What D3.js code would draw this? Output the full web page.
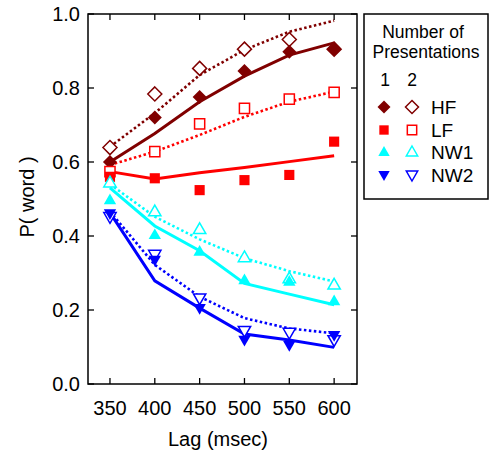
<!DOCTYPE html>
<html>
<head>
<meta charset="utf-8">
<script src="https://d3js.org/d3.v7.min.js"></script>
<style>
  body { margin: 0; background: #fff; }
  text { font-family: "Liberation Sans", Arial, sans-serif; fill: #000; }
</style>
</head>
<body>
<div id="chart"></div>
<script>
// lags on the x axis
var lags = [350, 400, 450, 500, 550, 600];
var yTicks = [0.0, 0.2, 0.4, 0.6, 0.8, 1.0];
var conditions = ["HF", "LF", "NW1", "NW2"];

// observed proportions, 1 and 2 presentations
var obs1 = {
  HF:  [0.600, 0.720, 0.776, 0.846, 0.898, 0.905],
  LF:  [0.560, 0.556, 0.524, 0.551, 0.565, 0.655],
  NW1: [0.497, 0.403, 0.358, 0.281, 0.277, 0.224],
  NW2: [0.461, 0.335, 0.205, 0.119, 0.105, 0.132]
};
var obs2 = {
  HF:  [0.639, 0.784, 0.853, 0.905, 0.931, 0.905],
  LF:  [0.574, 0.628, 0.703, 0.745, 0.770, 0.788],
  NW1: [0.544, 0.466, 0.418, 0.342, 0.285, 0.268],
  NW2: [0.452, 0.350, 0.232, 0.144, 0.139, 0.119]
};
// model fits (solid = 1 presentation, dotted = 2 presentations)
var fit1 = {
  HF:  [0.600, 0.677, 0.763, 0.832, 0.889, 0.922],
  LF:  [0.574, 0.554, 0.571, 0.585, 0.601, 0.617],
  NW1: [0.530, 0.427, 0.360, 0.272, 0.243, 0.214],
  NW2: [0.463, 0.279, 0.205, 0.135, 0.119, 0.099]
};
var fit2 = {
  HF:  [0.641, 0.732, 0.835, 0.903, 0.952, 0.982],
  LF:  [0.592, 0.628, 0.673, 0.722, 0.763, 0.790],
  NW1: [0.540, 0.452, 0.391, 0.340, 0.305, 0.277],
  NW2: [0.466, 0.322, 0.236, 0.178, 0.150, 0.137]
};

var colors = { HF: "#800000", LF: "#ff0000", NW1: "#00ffff", NW2: "#0000ff" };
var shapes = { HF: "diamond", LF: "square", NW1: "up", NW2: "down" };

var W = 489, H = 451;
var L = 88, R = 357, T = 14, B = 384;

var svg = d3.select("#chart").append("svg").attr("width", W).attr("height", H);

var x = d3.scaleLinear().domain([325.5, 625.5]).range([L, R]);
var y = d3.scaleLinear().domain([0, 1]).range([B, T]);

function shapePath(kind, r) {
  if (kind === "diamond") return "M0," + (-r) + "L" + r + ",0L0," + r + "L" + (-r) + ",0Z";
  if (kind === "square") { var s = r * 0.78; return "M" + (-s) + "," + (-s) + "H" + s + "V" + s + "H" + (-s) + "Z"; }
  if (kind === "up") return "M0," + (-r) + "L" + (r * 0.95) + "," + (r * 0.65) + "L" + (-r * 0.95) + "," + (r * 0.65) + "Z";
  return "M0," + r + "L" + (r * 0.95) + "," + (-r * 0.65) + "L" + (-r * 0.95) + "," + (-r * 0.65) + "Z";
}

// frame
svg.append("rect").attr("x", L).attr("y", T).attr("width", R - L).attr("height", B - T)
  .attr("fill", "none").attr("stroke", "#000").attr("stroke-width", 1.5);

// ticks inward on all sides
var tk = 6;
lags.forEach(function (d) {
  svg.append("line").attr("x1", x(d)).attr("x2", x(d)).attr("y1", B).attr("y2", B - tk).attr("stroke", "#000").attr("stroke-width", 1.3);
  svg.append("line").attr("x1", x(d)).attr("x2", x(d)).attr("y1", T).attr("y2", T + tk).attr("stroke", "#000").attr("stroke-width", 1.3);
  svg.append("text").attr("x", x(d)).attr("y", 415).attr("text-anchor", "middle")
    .style("font-size", "20px").text(d);
});
yTicks.forEach(function (d) {
  svg.append("line").attr("x1", L).attr("x2", L + tk).attr("y1", y(d)).attr("y2", y(d)).attr("stroke", "#000").attr("stroke-width", 1.3);
  svg.append("line").attr("x1", R).attr("x2", R - tk).attr("y1", y(d)).attr("y2", y(d)).attr("stroke", "#000").attr("stroke-width", 1.3);
  svg.append("text").attr("x", 80).attr("y", y(d) + 7).attr("text-anchor", "end")
    .style("font-size", "20px").text(d3.format(".1f")(d));
});

svg.append("text").attr("x", 218).attr("y", 446).attr("text-anchor", "middle")
  .style("font-size", "20px").text("Lag (msec)");
svg.append("text").attr("transform", "translate(34,197) rotate(-90)").attr("text-anchor", "middle")
  .style("font-size", "20px").text("P( word )");

// lines
var line = d3.line().x(function (d, i) { return x(lags[i]); }).y(function (d) { return y(d); });
conditions.forEach(function (c) {
  svg.append("path").attr("d", line(fit2[c])).attr("fill", "none").attr("stroke", colors[c])
    .attr("stroke-width", 2.6).attr("stroke-dasharray", "2.5,2.5");
  svg.append("path").attr("d", line(fit1[c])).attr("fill", "none").attr("stroke", colors[c])
    .attr("stroke-width", 3);
});

// markers
conditions.forEach(function (c) {
  var r = shapes[c] === "diamond" ? 7 : 6.5;
  svg.selectAll(null).data(obs2[c]).enter().append("path")
    .attr("transform", function (d, i) { return "translate(" + x(lags[i]) + "," + y(d) + ")"; })
    .attr("d", shapePath(shapes[c], r)).attr("fill", "#fff").attr("stroke", colors[c]).attr("stroke-width", 1.5);
  svg.selectAll(null).data(obs1[c]).enter().append("path")
    .attr("transform", function (d, i) { return "translate(" + x(lags[i]) + "," + y(d) + ")"; })
    .attr("d", shapePath(shapes[c], r)).attr("fill", colors[c]);
});

// legend
svg.append("rect").attr("x", 364).attr("y", 14).attr("width", 124).attr("height", 185)
  .attr("fill", "#fff").attr("stroke", "#000").attr("stroke-width", 1.5);
svg.append("text").attr("x", 423).attr("y", 38).attr("text-anchor", "middle").style("font-size", "17.5px").text("Number of");
svg.append("text").attr("x", 426).attr("y", 58).attr("text-anchor", "middle").style("font-size", "17.5px").text("Presentations");
svg.append("text").attr("x", 385).attr("y", 86).attr("text-anchor", "middle").style("font-size", "17.5px").text("1");
svg.append("text").attr("x", 412).attr("y", 86).attr("text-anchor", "middle").style("font-size", "17.5px").text("2");
var legY = [107, 130, 152, 175];
conditions.forEach(function (c, i) {
  var r = shapes[c] === "diamond" ? 6.5 : 6;
  svg.append("path").attr("transform", "translate(384," + legY[i] + ")")
    .attr("d", shapePath(shapes[c], r)).attr("fill", colors[c]);
  svg.append("path").attr("transform", "translate(412," + legY[i] + ")")
    .attr("d", shapePath(shapes[c], r)).attr("fill", "#fff").attr("stroke", colors[c]).attr("stroke-width", 1.5);
  svg.append("text").attr("x", 431).attr("y", legY[i] + 7).style("font-size", "19px").text(c);
});
</script>
</body>
</html>
